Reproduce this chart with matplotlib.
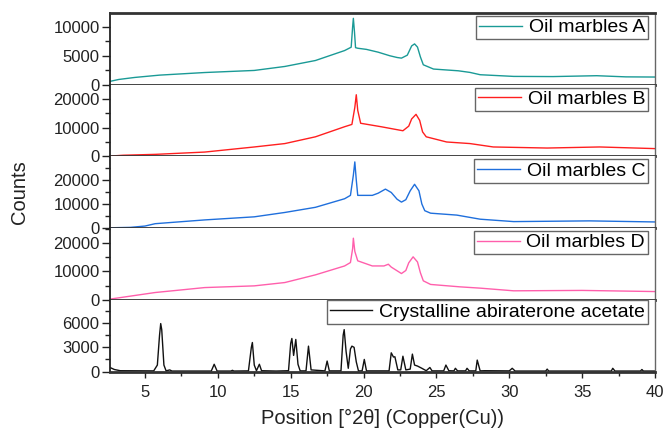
import matplotlib
matplotlib.use("Agg")
import matplotlib.pyplot as plt
from matplotlib.ticker import MultipleLocator

plt.rcParams['font.family'] = ['Liberation Sans', 'DejaVu Sans']

# values
xA = [2.6, 3.2, 4.3, 6.0, 9.1, 12.5, 14.6, 16.7, 18.7, 19.15, 19.25, 19.3, 19.38, 19.45, 19.6,
      20.2, 21.0, 21.8, 22.3, 22.6, 23.0, 23.3, 23.5, 23.7, 23.9, 24.1, 24.8, 26.5, 27.3,
      28.0, 30.3, 33.0, 36.0, 38.0, 40.0]
yA = [570, 900, 1250, 1650, 2100, 2460, 3150, 4180, 5900, 6480, 10000, 11470, 9000, 6400, 6300,
      6100, 5620, 5000, 4700, 4590, 5100, 6700, 7050, 6500, 4800, 3440, 2700, 2400, 2120,
      1720, 1430, 1400, 1550, 1350, 1320]

xB = [2.6, 3.5, 5.7, 9.1, 12.5, 14.6, 16.7, 18.7, 19.2, 19.4, 19.5, 19.6, 19.8,
      21.2, 22.7, 23.1, 23.3, 23.6, 23.85, 24.05, 24.3, 25.7, 27.3, 28.9, 32.6, 36.2, 40.0]
yB = [100, 400, 700, 1500, 3270, 4450, 6800, 10300, 11100, 17000, 21400, 16000, 11500,
      10300, 8900, 10500, 13000, 14600, 12500, 8500, 6800, 5000, 4450, 3270, 2900, 3270, 2700]

xC = [2.6, 4.0, 5.0, 5.7, 9.1, 12.5, 14.6, 16.7, 18.7, 19.1, 19.3, 19.4, 19.5, 19.6,
      20.6, 21.0, 21.5, 21.9, 22.3, 22.6, 22.9, 23.2, 23.5, 23.8, 24.0, 24.2, 24.6,
      26.4, 28.0, 30.3, 35.5, 40.0]
yC = [130, 300, 850, 1830, 3400, 4680, 6500, 8640, 12200, 13600, 22000, 27500, 20000, 13600,
      13600, 14500, 16200, 14800, 12000, 10800, 11800, 15500, 18200, 15500, 10000, 7230, 6200,
      5400, 3700, 2700, 3000, 2550]

xD = [2.6, 5.7, 9.1, 12.5, 14.6, 16.7, 18.7, 19.1, 19.25, 19.3, 19.4, 19.6, 20.6, 21.4,
      21.7, 21.9, 22.6, 22.9, 23.1, 23.4, 23.7, 23.9, 24.1, 24.6, 26.6, 28.0, 30.3, 35.0, 40.0]
yD = [250, 2560, 4300, 4900, 6070, 8770, 11900, 13100, 18000, 21650, 17000, 13700, 11900, 11900,
      12500, 11500, 9230, 10300, 13000, 15100, 13300, 9500, 6670, 5400, 4560, 4100, 3160, 3300, 2900]

xE = [2.6, 2.9, 3.3, 5.6, 5.85, 6.0, 6.08, 6.15, 6.3, 6.45, 6.7, 6.85, 9.55, 9.75, 9.95,
      10.9, 11.0, 11.1, 12.1, 12.3, 12.37, 12.5, 12.65, 12.85, 13.0, 14.0, 14.85, 15.0, 15.08,
      15.2, 15.35, 15.5, 15.65, 16.05, 16.22, 16.4, 17.35, 17.5, 17.65, 18.45, 18.6, 18.67,
      18.8, 18.95, 19.1, 19.2, 19.35, 19.5, 19.65, 19.9, 20.05, 20.2, 21.75, 21.9, 22.05,
      22.15, 22.35, 22.55, 22.7, 22.9, 23.2, 23.35, 23.5, 23.7, 24.0, 24.3, 24.55, 24.7,
      25.5, 25.65, 25.85, 26.2, 26.3, 26.45, 27.0, 27.1, 27.25, 27.7, 27.8, 28.0, 28.3,
      30.0, 30.2, 30.4, 32.5, 32.6, 32.7, 37.0, 37.1, 37.25, 39.0, 39.1, 39.2, 40.0]
yE = [500, 250, 100, 80, 800, 4500, 5950, 5200, 800, 80, 200, 60, 60, 900, 60,
      60, 150, 60, 80, 3000, 3600, 800, 100, 900, 100, 60, 100, 3500, 4100,
      2000, 3980, 900, 80, 80, 3150, 200, 80, 1300, 80, 80, 4500, 5200,
      2500, 400, 2800, 3150, 3000, 1200, 80, 80, 1500, 80, 80, 2320, 1800,
      1830, 200, 200, 1900, 200, 300, 2160, 800, 680, 400, 100, 500, 80,
      80, 800, 100, 80, 400, 80, 80, 400, 80, 80, 1420, 80, 100,
      80, 400, 60, 60, 300, 60, 60, 400, 60, 60, 250, 60, 60]

series = [(xA, yA, 'Oil marbles A'), (xB, yB, 'Oil marbles B'), (xC, yC, 'Oil marbles C'),
          (xD, yD, 'Oil marbles D'), (xE, yE, 'Crystalline abiraterone acetate')]
colors = ['#1a9a96', '#ff1f1f', '#1f6fdc', '#ff5fac', '#111111']
ylims = [12400, 24900, 29800, 25200, 8900]
majors = [5000, 10000, 10000, 10000, 3000]

fig, axes = plt.subplots(5, 1, figsize=(6.65, 4.32), dpi=100, sharex=True)
fig.subplots_adjust(left=0.1654, right=0.985, top=0.970, bottom=0.140, hspace=0)

for i, ax in enumerate(axes):
    x, y, name = series[i]
    ax.plot(x, y, color=colors[i], lw=1.0, label=name)
    ax.set_xlim(2.6, 40)
    ax.set_ylim(0, ylims[i])
    ax.yaxis.set_major_locator(MultipleLocator(majors[i]))
    ax.yaxis.set_minor_locator(MultipleLocator(majors[i] / 2))
    ax.tick_params(axis='y', which='major', direction='out', length=6, width=1,
                   pad=1.5, labelsize=12, colors='#222222')
    ax.tick_params(axis='y', which='minor', direction='out', length=3.5, width=1, colors='#222222')
    ax.spines['bottom'].set_linewidth(2)
    ax.spines['bottom'].set_color('#333333')
    ax.spines['top'].set_linewidth(2 if i == 0 else 0)
    ax.spines['top'].set_color('#333333')
    ax.spines['left'].set_linewidth(1.3)
    ax.spines['left'].set_color('#222222')
    ax.spines['right'].set_color('#666666')
    ax.spines['right'].set_linewidth(1)
    top = 0.96 if i < 4 else 0.995
    leg = ax.legend(loc='upper right', bbox_to_anchor=(0.987, top), borderaxespad=0,
                    fontsize=14, frameon=True, fancybox=False, handlelength=2.2,
                    handletextpad=0.35, borderpad=0.15, framealpha=1)
    leg.get_frame().set_edgecolor('#666666')
    leg.get_frame().set_linewidth(1)
    if i < 4:
        ax.tick_params(axis='x', which='both', bottom=False, labelbottom=False)

ax = axes[-1]
ax.xaxis.set_major_locator(MultipleLocator(5))
ax.xaxis.set_minor_locator(MultipleLocator(2.5))
ax.tick_params(axis='x', which='major', direction='out', length=4, width=1, pad=6,
               labelsize=12, colors='#222222')
ax.tick_params(axis='x', which='minor', direction='out', length=3, width=1, colors='#222222')
ax.set_xlabel('Position [°2θ] (Copper(Cu))', fontsize=14.5, color='#222222', labelpad=6)
fig.text(0.03, 0.555, 'Counts', rotation=90, fontsize=14.5, color='#222222',
         ha='center', va='center')

fig.savefig('out.png', dpi=100)
